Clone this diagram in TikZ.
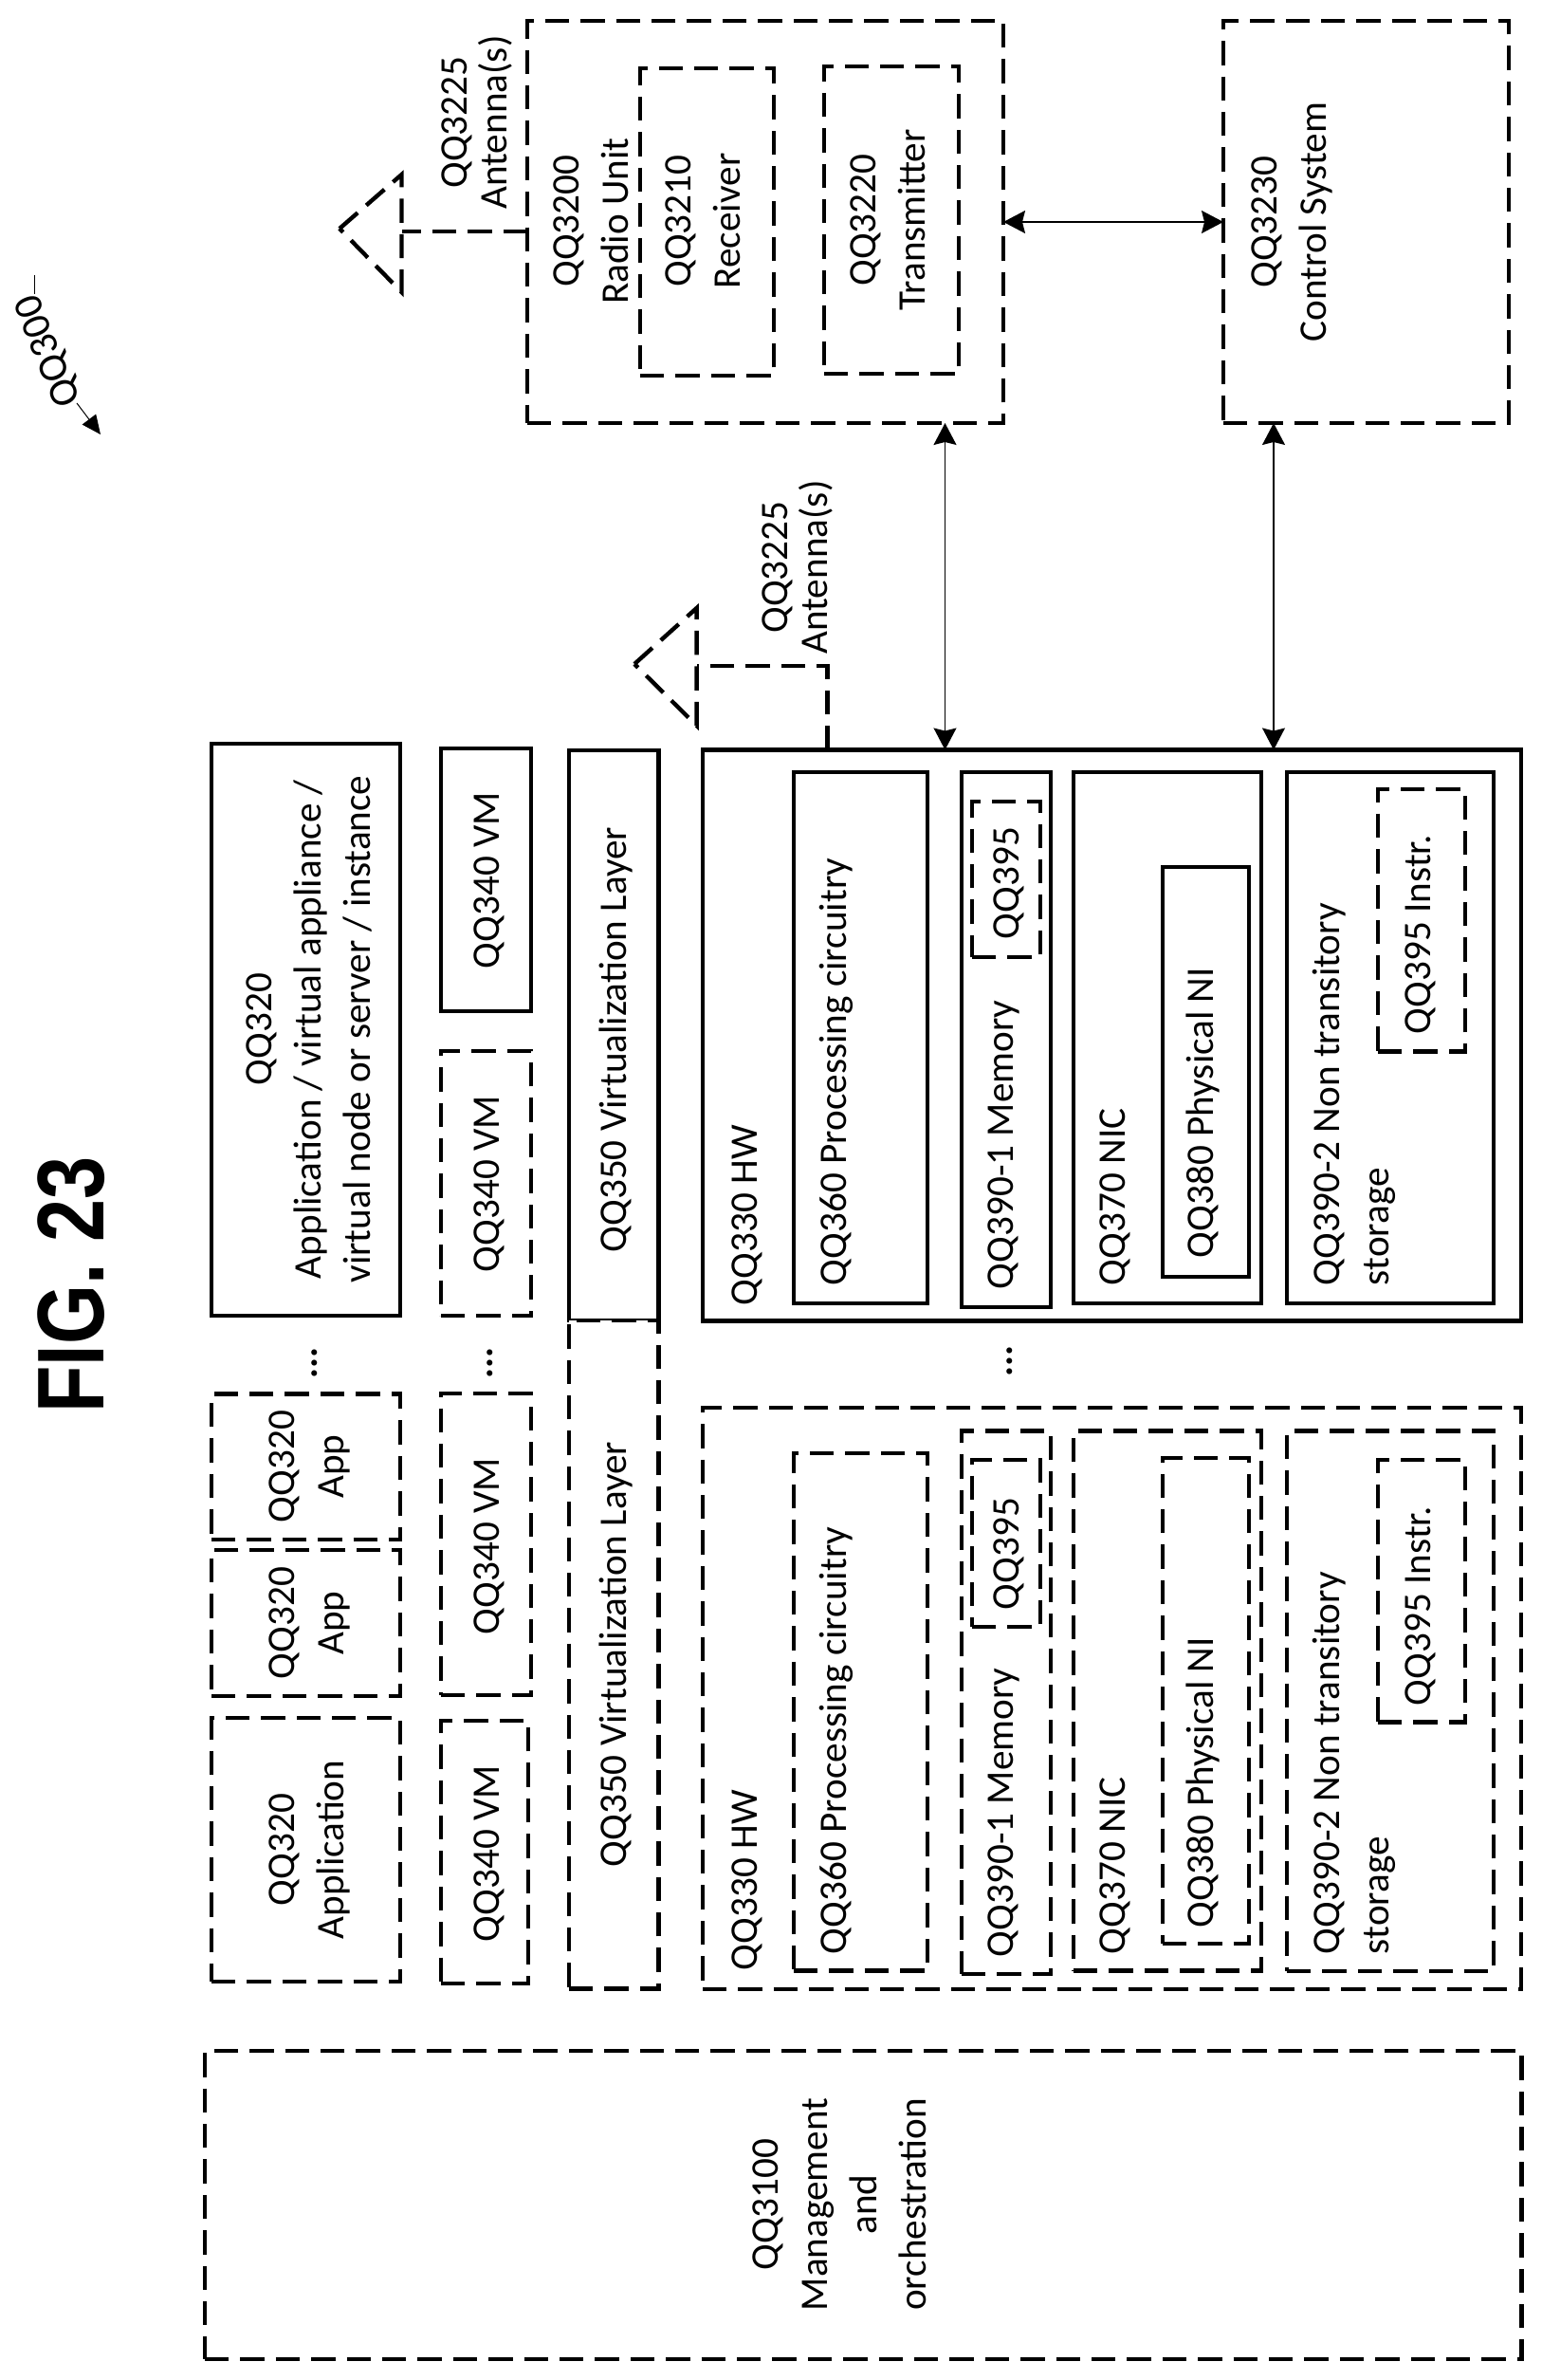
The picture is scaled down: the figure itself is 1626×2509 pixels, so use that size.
\documentclass[tikz,border=0pt]{standalone}
\usepackage{fontspec}
\setmainfont{Carlito}
\newfontfamily\figfont{Liberation Sans}
\usetikzlibrary{arrows.meta}
\tikzset{
  solidbox/.style={draw=black,line width=2.2pt,rectangle,inner sep=0pt,outer sep=0pt},
  dashbox/.style={solidbox,dash pattern=on 12.7pt off 6pt},
  dashline/.style={draw=black,line width=2.2pt,dash pattern=on 12.7pt off 6pt},
  link/.style={draw=black,line width=0.7pt,{Stealth[length=11.5pt,width=12pt,inset=1.5pt]}-{Stealth[length=11.5pt,width=12pt,inset=1.5pt]}},
  pointer/.style={draw=black,line width=0.5pt},
  label1/.style={rotate=90,inner sep=0pt,outer sep=0pt,font=\fontsize{20.6}{26}\selectfont,text height=14pt,text depth=4pt},
  labelstart/.style={label1,anchor=west},
  labelmulti/.style={rotate=90,inner sep=0pt,outer sep=0pt,font=\fontsize{20.6}{26}\selectfont,align=center},
  dotstext/.style={rotate=90,inner sep=0pt,outer sep=0pt,font=\fontsize{20.6}{26}\selectfont\bfseries}
}
\newcommand{\bx}[6]{\pgfmathsetmacro\bcx{(#3+#5)/2}\pgfmathsetmacro\bcy{(#4+#6)/2}%
  \node[#2,minimum width={(#5-#3)*0.5pt},minimum height={(#6-#4)*0.5pt}] (#1) at (\bcx,\bcy) {};}
\begin{document}
\begin{tikzpicture}[x=0.5pt,y=-0.5pt]
\useasboundingbox (0,0) rectangle (1626,2509);
% top row
\bx{radio}{dashbox}{556}{22}{1058}{446}
\bx{recv}{dashbox}{675}{72}{816}{396}
\bx{trans}{dashbox}{869}{70}{1011}{394}
\bx{ctl}{dashbox}{1290}{22}{1591}{446}
% solid column
\bx{appS}{solidbox}{223}{784}{422}{1387}
\bx{vmS}{solidbox}{465}{789}{560}{1066}
\bx{vmD}{dashbox}{465}{1108}{560}{1387}
\bx{virtS}{solidbox}{600}{791}{694.5}{1392}
\bx{hwS}{solidbox}{741}{790.5}{1604}{1392.5}
\bx{procS}{solidbox}{837}{814}{978}{1374}
\bx{memS}{solidbox}{1014}{814}{1108}{1378}
\bx{instA}{dashbox}{1025}{845}{1097}{1009}
\bx{nicS}{solidbox}{1132}{814}{1330}{1374}
\bx{niS}{solidbox}{1226}{914}{1317}{1346}
\bx{stoS}{solidbox}{1357}{814}{1575}{1374}
\bx{instB}{dashbox}{1453}{832}{1545}{1108.5}
% dashed column
\bx{app1}{dashbox}{223}{1469.5}{422}{1623}
\bx{app2}{dashbox}{223}{1634}{422}{1788}
\bx{app3}{dashbox}{223}{1811}{422}{2089}
\bx{vm2}{dashbox}{465}{1469}{560}{1787}
\bx{vm3}{dashbox}{465}{1814}{557}{2091}
\bx{virtD}{dashbox,fill=white}{600}{1392}{694.5}{2096.5}
\bx{hwD}{dashbox}{741}{1484}{1604}{2097}
\bx{procD}{dashbox}{837}{1532}{978}{2077.5}
\bx{memD}{dashbox}{1014}{1508.5}{1108}{2081}
\bx{instC}{dashbox}{1025}{1539}{1097}{1715}
\bx{nicD}{dashbox}{1132}{1508.5}{1330}{2077.5}
\bx{niD}{dashbox}{1226}{1537}{1317}{2049}
\bx{stoD}{dashbox}{1357}{1508.5}{1575}{2078}
\bx{instD}{dashbox}{1453}{1539}{1545}{1815.5}
\bx{mgmt}{dashbox}{216}{2162}{1604.5}{2487}
% connectors
\coordinate (colA) at (996.5,600);
\coordinate (colB) at (1343,600);
\draw[link] (radio) -- (ctl);
\draw[link] (colA |- radio.south) -- (colA |- hwS.north);
\draw[link] (colB |- ctl.south) -- (colB |- hwS.north);
% antenna 1
\coordinate (a1apex) at (358,241);
\coordinate (a1top) at (423.5,184);
\coordinate (a1bot) at (423.5,308);
\coordinate (a1mid) at (423.5,244);
\draw[dashline] (a1apex) -- (a1top) -- (a1bot) -- cycle;
\draw[dashline] (radio.west |- a1mid) -- (a1mid);
% antenna 2
\coordinate (a2apex) at (669,700);
\coordinate (a2top) at (734.6,641);
\coordinate (a2bot) at (734.6,765);
\coordinate (a2mid) at (734.6,702);
\coordinate (a2bend) at (872.6,702);
\draw[dashline] (a2apex) -- (a2top) -- (a2bot) -- cycle;
\draw[dashline] (a2bend |- hwS.north) -- (a2bend) -- (a2mid);
% reference mark
\coordinate (tickA) at (36,290);
\coordinate (tickB) at (36,310);
\coordinate (arrA) at (81,425);
\coordinate (arrB) at (106,458);
\draw[pointer] (tickA) -- (tickB);
\draw[pointer,-{Stealth[length=10pt,width=9pt,inset=0pt]}] (arrA) -- (arrB);
\node[rotate=112,inner sep=0pt,font=\fontsize{21.5}{26}\selectfont] (fignum) at (52,370) {QQ300};
\node[rotate=90,inner sep=0pt] (figtitle) at (75,1354.5) {\scalebox{0.81}[1]{\figfont\fontsize{50}{60}\selectfont\bfseries FIG. 23}};
% top labels
\node[labelmulti] (lAnt1) at (503,129) {QQ3225\\[-5pt]Antenna(s)};
\node[labelmulti] (lAnt2) at (841,598) {QQ3225\\[-5pt]Antenna(s)};
\node[labelmulti] (lRadio) at (623,233) {QQ3200\\Radio Unit};
\node[labelmulti] (lRecv) at (741,233) {QQ3210\\Receiver};
\node[labelmulti] (lTrans) at (936,232) {QQ3220\\Transmitter};
\node[labelmulti] (lCtl) at (1362,234) {QQ3230\\Control System};
% application labels
\node[labelmulti] (lApp) at (326,1085) {QQ320\\Application / virtual appliance /\\virtual node or server / instance};
\node[labelmulti] (lApp1) at (326,1546) {QQ320\\App};
\node[labelmulti] (lApp2) at (326,1711) {QQ320\\App};
\node[labelmulti] (lApp3) at (326,1950) {QQ320\\Application};
\node[label1] (lVm1) at (516,928) {QQ340 VM};
\node[label1] (lVm2) at (516,1248) {QQ340 VM};
\node[label1] (lVm3) at (516,1630) {QQ340 VM};
\node[label1] (lVm4) at (516,1954) {QQ340 VM};
\node[label1] (lVirt1) at (650,1096) {QQ350 Virtualization Layer};
\node[label1] (lVirt2) at (650,1744) {QQ350 Virtualization Layer};
% solid column labels
\node[labelstart] (lHw1) at (788,1376) {QQ330 HW};
\node[labelstart] (lProc1) at (882,1355) {QQ360 Processing circuitry};
\node[labelstart] (lMem1) at (1058,1359) {QQ390-1 Memory};
\node[labelstart] (lI1) at (1064,990) {QQ395};
\node[labelstart] (lNic1) at (1176,1355) {QQ370 NIC};
\node[labelstart] (lNi1) at (1269,1326) {QQ380 Physical NI};
\node[labelstart] (lSto1) at (1402,1355) {QQ390-2 Non transitory};
\node[labelstart] (lSto1b) at (1454,1355) {storage};
\node[labelstart] (lI2) at (1498,1090) {QQ395 Instr.};
% dashed column labels
\node[labelstart] (lHw2) at (788,2077) {QQ330 HW};
\node[labelstart] (lProc2) at (882,2060) {QQ360 Processing circuitry};
\node[labelstart] (lMem2) at (1058,2063) {QQ390-1 Memory};
\node[labelstart] (lI3) at (1064,1697) {QQ395};
\node[labelstart] (lNic2) at (1176,2060) {QQ370 NIC};
\node[labelstart] (lNi2) at (1269,2032) {QQ380 Physical NI};
\node[labelstart] (lSto2) at (1402,2060) {QQ390-2 Non transitory};
\node[labelstart] (lSto2b) at (1454,2060) {storage};
\node[labelstart] (lI4) at (1498,1798) {QQ395 Instr.};
\node[labelmulti] (lMgmt) at (885,2324) {QQ3100\\Management\\and\\orchestration};
% ellipses
\node[dotstext] (dots1) at (332,1437) {...};
\node[dotstext] (dots2) at (517,1437) {...};
\node[dotstext] (dots3) at (1065,1435) {...};
\end{tikzpicture}
\end{document}
